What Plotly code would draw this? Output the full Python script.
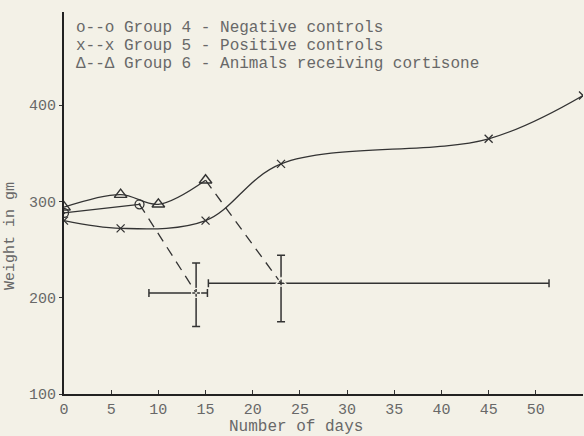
import plotly.graph_objects as go

# ---- data ----
g4_days = [0, 8, 14]
g4_weight = [288, 297, 205]
g4_err_up = [0, 0, 31]
g4_err_down = [0, 0, 35]
g4_err_right = [0, 0, 1.2]
g4_err_left = [0, 0, 5.0]

g5_days = [0, 6, 15, 23, 45, 55]
g5_weight = [280, 272, 280, 339, 365, 410]

g6_days = [0, 6, 10, 15, 23]
g6_weight = [294, 307, 297, 322, 215]
g6_err_up = [0, 0, 0, 0, 29]
g6_err_down = [0, 0, 0, 0, 40]
g6_err_right = [0, 0, 0, 0, 28.4]
g6_err_left = [0, 0, 0, 0, 7.7]

x_ticks = [0, 5, 10, 15, 20, 25, 30, 35, 40, 45, 50]
y_ticks = [100, 200, 300, 400]

legend_lines = [
    "o--o Group 4 - Negative controls",
    "x--x Group 5 - Positive controls",
    "\u0394--\u0394 Group 6 - Animals receiving cortisone",
]

INK = "#333333"
TXT = "#686868"
FONT = "Liberation Mono, Courier New, monospace"
BG = "#f3f1e7"
DASH = "10px,7px"

fig = go.Figure()

# Group 5 (x) - solid smooth curve
fig.add_trace(go.Scatter(
    x=g5_days, y=g5_weight, mode="lines+markers",
    line=dict(color=INK, width=1.3, shape="spline"),
    marker=dict(symbol="x-thin-open", size=8, line=dict(color=INK, width=1.3)),
    showlegend=False))

# Group 4 (o) - solid part then dashed
fig.add_trace(go.Scatter(
    x=g4_days[:2], y=g4_weight[:2], mode="lines+markers",
    line=dict(color=INK, width=1.3, shape="spline"),
    marker=dict(symbol="circle-open-dot", size=9, line=dict(color=INK, width=1.3)),
    showlegend=False))
fig.add_trace(go.Scatter(
    x=g4_days[1:], y=g4_weight[1:], mode="lines",
    line=dict(color=INK, width=1.3, dash=DASH),
    showlegend=False))
fig.add_trace(go.Scatter(
    x=g4_days[2:], y=g4_weight[2:], mode="markers",
    marker=dict(symbol="circle-open-dot", size=9, color=BG, line=dict(color=INK, width=1.3)),
    error_y=dict(type="data", array=g4_err_up[2:], arrayminus=g4_err_down[2:],
                 color=INK, thickness=1.5, width=4),
    error_x=dict(type="data", array=g4_err_right[2:], arrayminus=g4_err_left[2:],
                 color=INK, thickness=1.5, width=4),
    showlegend=False))

# Group 6 (triangles) - solid part then dashed
fig.add_trace(go.Scatter(
    x=g6_days[:4], y=g6_weight[:4], mode="lines+markers",
    line=dict(color=INK, width=1.3, shape="spline"),
    marker=dict(symbol="triangle-up-open", size=11, line=dict(color=INK, width=1.4)),
    showlegend=False))
fig.add_trace(go.Scatter(
    x=g6_days[3:], y=g6_weight[3:], mode="lines",
    line=dict(color=INK, width=1.3, dash=DASH),
    showlegend=False))
fig.add_trace(go.Scatter(
    x=g6_days[4:], y=g6_weight[4:], mode="markers",
    marker=dict(symbol="triangle-up-open", size=11, color=BG, line=dict(color=INK, width=1.4)),
    error_y=dict(type="data", array=g6_err_up[4:], arrayminus=g6_err_down[4:],
                 color=INK, thickness=1.5, width=4),
    error_x=dict(type="data", array=g6_err_right[4:], arrayminus=g6_err_left[4:],
                 color=INK, thickness=1.5, width=4),
    showlegend=False))

# typewritten legend
leg_y_px = [28, 46, 64]
for txt, yp in zip(legend_lines, leg_y_px):
    fig.add_annotation(text=txt, xref="paper", yref="paper",
                       x=(75 - 64) / 519, y=(394 - yp) / 382,
                       xanchor="left", yanchor="middle", showarrow=False,
                       borderpad=0,
                       font=dict(family=FONT, size=16, color=TXT))

# axis titles
fig.add_annotation(text="Weight in gm", xref="paper", yref="paper",
                   x=(11 - 64) / 519, y=(394 - 236) / 382, textangle=-90,
                   xanchor="center", yanchor="middle", showarrow=False,
                   font=dict(family=FONT, size=15, color=TXT))
fig.add_annotation(text="Number of days", xref="paper", yref="paper",
                   x=(296 - 64) / 519, y=(394 - 427) / 382,
                   xanchor="center", yanchor="middle", showarrow=False,
                   font=dict(family=FONT, size=16, color=TXT))

fig.update_layout(
    width=584, height=436,
    margin=dict(l=64, r=1, t=12, b=42),
    paper_bgcolor=BG, plot_bgcolor=BG,
    xaxis=dict(range=[0, 55], tickvals=x_ticks, ticks="inside", ticklen=4,
               tickcolor=INK, showline=True, linecolor="#222222", linewidth=2,
               showgrid=False, zeroline=False,
               tickfont=dict(family=FONT, size=15, color=TXT)),
    yaxis=dict(range=[100, 100 + 382 / 0.963], tickvals=y_ticks, ticks="outside",
               ticklen=3, tickcolor=INK, showline=True, linecolor="#222222",
               linewidth=2, showgrid=False, zeroline=False,
               tickfont=dict(family=FONT, size=15, color=TXT)),
)

fig.write_html("out.html")
